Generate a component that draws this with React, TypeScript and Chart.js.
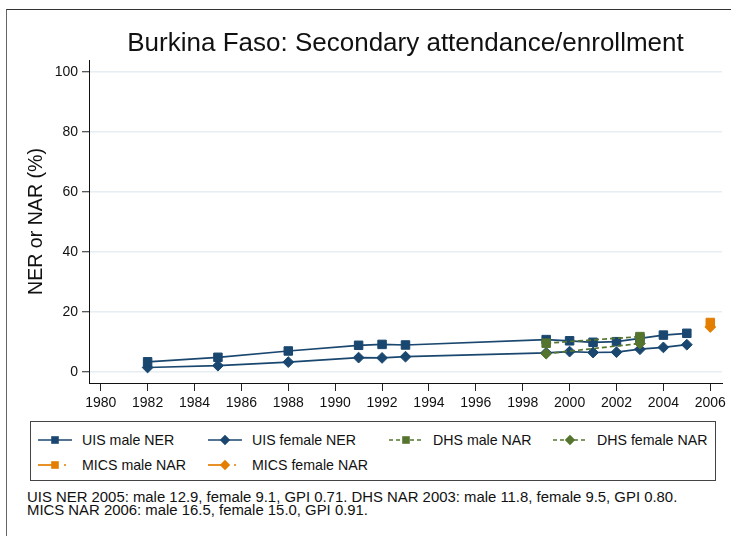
import React, { useEffect, useRef } from "react";
import { Chart, registerables } from "chart.js";

Chart.register(...registerables);

const titleText = "Burkina Faso: Secondary attendance/enrollment";
const yAxisTitle = "NER or NAR (%)";
const xTickValues = [1980, 1982, 1984, 1986, 1988, 1990, 1992, 1994, 1996, 1998, 2000, 2002, 2004, 2006];
const yTickValues = [0, 20, 40, 60, 80, 100];

const uisYears = [1982, 1985, 1988, 1991, 1992, 1993, 1999, 2000, 2001, 2002, 2003, 2004, 2005];
const uisMale = [3.4, 4.9, 7.0, 8.9, 9.2, 9.0, 10.8, 10.4, 9.9, 10.1, 11.2, 12.3, 12.9];
const uisFemale = [1.5, 2.1, 3.3, 4.8, 4.7, 5.1, 6.4, 6.8, 6.5, 6.6, 7.6, 8.2, 9.1];

const dhsYears = [1999, 2003];
const dhsMale = [9.6, 11.8];
const dhsFemale = [6.1, 9.5];

const micsYears = [2006];
const micsMale = [16.5];
const micsFemale = [15.0];

const noteLines = [
  "UIS NER 2005: male 12.9, female 9.1, GPI 0.71. DHS NAR 2003: male 11.8, female 9.5, GPI 0.80.",
  "MICS NAR 2006: male 16.5, female 15.0, GPI 0.91.",
];

const NAVY = "#1a476f";
const GREEN = "#55752f";
const ORANGE = "#e37e00";
const FONT = "'Liberation Sans', Arial, Helvetica, sans-serif";

type Item = { label: string; color: string; marker: "square" | "diamond"; line: "solid" | "dash" | "dashdot" };

const legendItems: Item[] = [
  { label: "UIS male NER", color: NAVY, marker: "square", line: "solid" },
  { label: "UIS female NER", color: NAVY, marker: "diamond", line: "solid" },
  { label: "DHS male NAR", color: GREEN, marker: "square", line: "dash" },
  { label: "DHS female NAR", color: GREEN, marker: "diamond", line: "dash" },
  { label: "MICS male NAR", color: ORANGE, marker: "square", line: "dashdot" },
  { label: "MICS female NAR", color: ORANGE, marker: "diamond", line: "dashdot" },
];

// legend layout (page coordinates)
const sampleX = [38, 208, 389, 553];
const textX = [82, 252, 433, 597];
const rowY = [440, 465];

function pts(xs: number[], ys: number[]) {
  return xs.map((x, i) => ({ x, y: ys[i] }));
}

function Sample({ item }: { item: Item }) {
  const c = item.color;
  const cy = 7;
  const mx = 17;
  return (
    <svg width={36} height={14} style={{ position: "absolute", left: 0, top: -7, overflow: "visible" }}>
      {item.line === "solid" && <line x1={0} y1={cy} x2={34} y2={cy} stroke={c} strokeWidth={1.7} />}
      {item.line === "dash" && (
        <line x1={0} y1={cy} x2={34} y2={cy} stroke={c} strokeWidth={1.7} strokeDasharray="4 3" />
      )}
      {item.line === "dashdot" && (
        <>
          <line x1={0} y1={cy} x2={14} y2={cy} stroke={c} strokeWidth={1.7} />
          <line x1={26} y1={cy} x2={28} y2={cy} stroke={c} strokeWidth={1.7} />
        </>
      )}
      {item.marker === "square" ? (
        <rect x={mx - 3.8} y={cy - 3.8} width={7.6} height={7.6} fill={c} />
      ) : (
        <polygon points={`${mx - 5.2},${cy} ${mx},${cy - 5.2} ${mx + 5.2},${cy} ${mx},${cy + 5.2}`} fill={c} />
      )}
    </svg>
  );
}

export default function App() {
  const ref = useRef<HTMLCanvasElement | null>(null);

  useEffect(() => {
    document.body.style.margin = "0";
    const canvas = ref.current;
    if (!canvas) return;
    const common = { borderWidth: 1.7, pointBorderWidth: 1, pointHoverRadius: 5 };
    const chart = new Chart(canvas, {
      type: "line",
      data: {
        datasets: [
          {
            label: "UIS male NER",
            data: pts(uisYears, uisMale),
            borderColor: NAVY,
            backgroundColor: NAVY,
            pointStyle: "rect",
            pointRadius: 6,
            order: 3,
            ...common,
          },
          {
            label: "UIS female NER",
            data: pts(uisYears, uisFemale),
            borderColor: NAVY,
            backgroundColor: NAVY,
            pointStyle: "rectRot",
            pointRadius: 5.4,
            order: 3,
            ...common,
          },
          {
            label: "DHS male NAR",
            data: pts(dhsYears, dhsMale),
            borderColor: GREEN,
            backgroundColor: GREEN,
            pointStyle: "rect",
            pointRadius: 6,
            borderDash: [5, 3],
            order: 2,
            ...common,
          },
          {
            label: "DHS female NAR",
            data: pts(dhsYears, dhsFemale),
            borderColor: GREEN,
            backgroundColor: GREEN,
            pointStyle: "rectRot",
            pointRadius: 5.4,
            borderDash: [5, 3],
            order: 2,
            ...common,
          },
          {
            label: "MICS male NAR",
            data: pts(micsYears, micsMale),
            borderColor: ORANGE,
            backgroundColor: ORANGE,
            pointStyle: "rect",
            pointRadius: 6,
            showLine: false,
            order: 1,
            ...common,
          },
          {
            label: "MICS female NAR",
            data: pts(micsYears, micsFemale),
            borderColor: ORANGE,
            backgroundColor: ORANGE,
            pointStyle: "rectRot",
            pointRadius: 5.4,
            showLine: false,
            order: 1,
            ...common,
          },
        ],
      },
      options: {
        responsive: false,
        animation: false,
        layout: { padding: { top: 60, right: 9, left: 0, bottom: 0 } },
        font: { family: FONT },
        plugins: {
          legend: { display: false },
          tooltip: { enabled: false },
          title: { display: false },
        },
        scales: {
          x: {
            type: "linear",
            min: 1979.5,
            max: 2006.5,
            afterFit: (s: any) => {
              s.height = 420 - 383;
            },
            afterBuildTicks: (s: any) => {
              s.ticks = xTickValues.map((v) => ({ value: v }));
            },
            grid: {
              drawOnChartArea: false,
              drawTicks: true,
              tickLength: 8,
              tickColor: "#222",
              tickWidth: 1,
            },
            border: { display: true, color: "#111", width: 1 },
            ticks: {
              autoSkip: false,
              maxRotation: 0,
              padding: 4,
              color: "#111",
              font: { family: FONT, size: 14 },
              callback: (v: any) => String(v),
            },
          },
          y: {
            type: "linear",
            min: -3.67,
            max: 104,
            afterFit: (s: any) => {
              s.width = 89;
            },
            afterBuildTicks: (s: any) => {
              s.ticks = yTickValues.map((v) => ({ value: v }));
            },
            grid: {
              color: "#e6eef3",
              lineWidth: 1.5,
              drawTicks: true,
              tickLength: 7,
              tickColor: "#222",
              tickWidth: 1,
            },
            border: { display: true, color: "#111", width: 1 },
            ticks: {
              padding: 4,
              color: "#111",
              font: { family: FONT, size: 14 },
              callback: (v: any) => String(v),
            },
            title: {
              display: true,
              text: yAxisTitle,
              color: "#111",
              font: { family: FONT, size: 19.6 },
              padding: { top: 25, bottom: 0 },
            },
          },
        },
      } as any,
    });
    return () => chart.destroy();
  }, []);

  return (
    <div
      style={{
        position: "absolute",
        left: 0,
        top: 0,
        width: 731,
        height: 536,
        overflow: "hidden",
        background: "#fff",
        fontFamily: FONT,
        color: "#111",
      }}
    >
      <div
        style={{
          position: "absolute",
          left: 6,
          top: 9,
          width: 760,
          height: 560,
          borderTop: "1px solid #333",
          borderLeft: "1px solid #666",
        }}
      />
      <canvas ref={ref} width={731} height={420} style={{ position: "absolute", left: 0, top: 0, display: "block" }} />
      <div
        style={{
          position: "absolute",
          left: 89,
          width: 633,
          top: 27,
          height: 30,
          lineHeight: "30px",
          fontSize: 26,
          textAlign: "center",
          whiteSpace: "nowrap",
        }}
      >
        {titleText}
      </div>
      <div
        style={{
          position: "absolute",
          left: 30,
          top: 421,
          width: 686,
          height: 60,
          boxSizing: "border-box",
          border: "1px solid #444",
        }}
      />
      {legendItems.map((it, i) => {
        const col = i % 4;
        const row = Math.floor(i / 4);
        return (
          <React.Fragment key={it.label}>
            <div style={{ position: "absolute", left: sampleX[col], top: rowY[row], width: 36, height: 0 }}>
              <Sample item={it} />
            </div>
            <div
              style={{
                position: "absolute",
                left: textX[col],
                top: rowY[row] - 9,
                height: 18,
                lineHeight: "18px",
                fontSize: 14.2,
                whiteSpace: "nowrap",
              }}
            >
              {it.label}
            </div>
          </React.Fragment>
        );
      })}
      {noteLines.map((t, i) => (
        <div
          key={i}
          style={{
            position: "absolute",
            left: 27,
            top: 491 + i * 12.5,
            height: 13,
            lineHeight: "13px",
            fontSize: 14.9,
            whiteSpace: "nowrap",
          }}
        >
          {t}
        </div>
      ))}
    </div>
  );
}
